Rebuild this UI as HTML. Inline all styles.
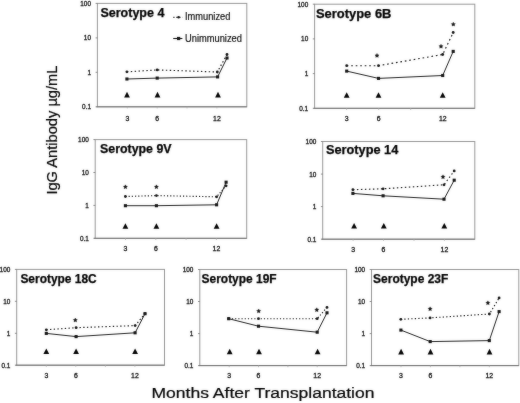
<!DOCTYPE html>
<html><head><meta charset="utf-8"><title>IgG Antibody by Serotype</title>
<style>
html,body{margin:0;padding:0;background:#fff;}
body{width:520px;height:403px;overflow:hidden;font-family:"Liberation Sans",sans-serif;}
svg{display:block;font-family:"Liberation Sans",sans-serif;}
</style></head><body>
<svg width="520" height="403" viewBox="0 0 520 403">
<defs><filter id="soft" x="0" y="0" width="520" height="403" filterUnits="userSpaceOnUse" color-interpolation-filters="sRGB"><feGaussianBlur in="SourceGraphic" stdDeviation="0.8" result="b"/><feComposite in="b" in2="SourceGraphic" operator="arithmetic" k1="0" k2="0.3" k3="0.7" k4="0"/></filter></defs>
<rect width="520" height="403" fill="#fff"/>
<g filter="url(#soft)">
<rect x="97.4" y="3.4" width="149.4" height="103.4" fill="none" stroke="#959595" stroke-width="1"/>
<path d="M96.4 106.8H246.8" fill="none" stroke="#6e6e6e" stroke-width="1"/>
<line x1="95.60000000000001" y1="3.4" x2="97.4" y2="3.4" stroke="#6e6e6e" stroke-width="0.8"/>
<text x="0" y="0" font-size="6.9" text-anchor="end" fill="#111" transform="translate(91.0,5.8) scale(0.93,1)" stroke="#111" stroke-width="0.3">100</text>
<line x1="95.60000000000001" y1="37.9" x2="97.4" y2="37.9" stroke="#6e6e6e" stroke-width="0.8"/>
<text x="0" y="0" font-size="6.9" text-anchor="end" fill="#111" transform="translate(91.0,40.3) scale(0.93,1)" stroke="#111" stroke-width="0.3">10</text>
<line x1="95.60000000000001" y1="72.3" x2="97.4" y2="72.3" stroke="#6e6e6e" stroke-width="0.8"/>
<text x="0" y="0" font-size="6.9" text-anchor="end" fill="#111" transform="translate(91.0,74.7) scale(0.93,1)" stroke="#111" stroke-width="0.3">1</text>
<line x1="95.60000000000001" y1="106.8" x2="97.4" y2="106.8" stroke="#6e6e6e" stroke-width="0.8"/>
<text x="0" y="0" font-size="6.9" text-anchor="end" fill="#111" transform="translate(91.0,109.2) scale(0.93,1)" stroke="#111" stroke-width="0.3">0.1</text>
<line x1="127.3" y1="106.8" x2="127.3" y2="108.39999999999999" stroke="#aaa" stroke-width="0.8"/>
<text x="127.3" y="120.7" font-size="6.9" text-anchor="middle" fill="#111" transform="translate(127.3,0) scale(1.0,1) translate(-127.3,0)" stroke="#111" stroke-width="0.3">3</text>
<line x1="157.2" y1="106.8" x2="157.2" y2="108.39999999999999" stroke="#aaa" stroke-width="0.8"/>
<text x="157.2" y="120.7" font-size="6.9" text-anchor="middle" fill="#111" transform="translate(157.2,0) scale(1.0,1) translate(-157.2,0)" stroke="#111" stroke-width="0.3">6</text>
<line x1="187.0" y1="106.8" x2="187.0" y2="108.39999999999999" stroke="#aaa" stroke-width="0.8"/>
<line x1="216.9" y1="106.8" x2="216.9" y2="108.39999999999999" stroke="#aaa" stroke-width="0.8"/>
<text x="216.9" y="120.7" font-size="6.9" text-anchor="middle" fill="#111" transform="translate(216.9,0) scale(1.0,1) translate(-216.9,0)" stroke="#111" stroke-width="0.3">12</text>
<text x="100.4" y="16.8" font-size="12.4" font-weight="bold" fill="#000" stroke="#000" stroke-width="0.25" textLength="64.0" lengthAdjust="spacingAndGlyphs">Serotype 4</text>
<polygon points="124.1,97.4 129.9,97.4 127.0,91.8" fill="#000"/>
<polygon points="154.6,97.4 160.4,97.4 157.5,91.8" fill="#000"/>
<polygon points="215.1,97.4 220.9,97.4 218.0,91.8" fill="#000"/>
<polyline points="126.9,71.8 157.2,69.9 217.3,72 227,54.5" fill="none" stroke="#111" stroke-width="1.15" stroke-dasharray="1.44 2.46" stroke-linecap="butt"/>
<circle cx="126.9" cy="71.8" r="1.4" fill="#111"/>
<circle cx="157.2" cy="69.9" r="1.4" fill="#111"/>
<circle cx="217.3" cy="72" r="1.4" fill="#111"/>
<circle cx="227" cy="54.5" r="1.4" fill="#111"/>
<polyline points="126.9,79 157.2,78.1 217.6,76.9 227,58" fill="none" stroke="#111" stroke-width="0.95" stroke-linejoin="round"/>
<rect x="125.35" y="77.45" width="3.1" height="3.1" fill="#111"/>
<rect x="155.65" y="76.55" width="3.1" height="3.1" fill="#111"/>
<rect x="216.05" y="75.35" width="3.1" height="3.1" fill="#111"/>
<rect x="225.45" y="56.45" width="3.1" height="3.1" fill="#111"/>
<rect x="314.6" y="4.2" width="160.2" height="104.1" fill="none" stroke="#959595" stroke-width="1"/>
<path d="M313.6 108.3H474.8" fill="none" stroke="#6e6e6e" stroke-width="1"/>
<line x1="312.8" y1="4.2" x2="314.6" y2="4.2" stroke="#6e6e6e" stroke-width="0.8"/>
<text x="0" y="0" font-size="6.9" text-anchor="end" fill="#111" transform="translate(308.2,6.6) scale(0.93,1)" stroke="#111" stroke-width="0.3">100</text>
<line x1="312.8" y1="38.9" x2="314.6" y2="38.9" stroke="#6e6e6e" stroke-width="0.8"/>
<text x="0" y="0" font-size="6.9" text-anchor="end" fill="#111" transform="translate(308.2,41.3) scale(0.93,1)" stroke="#111" stroke-width="0.3">10</text>
<line x1="312.8" y1="73.6" x2="314.6" y2="73.6" stroke="#6e6e6e" stroke-width="0.8"/>
<text x="0" y="0" font-size="6.9" text-anchor="end" fill="#111" transform="translate(308.2,76.0) scale(0.93,1)" stroke="#111" stroke-width="0.3">1</text>
<line x1="312.8" y1="108.3" x2="314.6" y2="108.3" stroke="#6e6e6e" stroke-width="0.8"/>
<text x="0" y="0" font-size="6.9" text-anchor="end" fill="#111" transform="translate(308.2,110.7) scale(0.93,1)" stroke="#111" stroke-width="0.3">0.1</text>
<line x1="346.6" y1="108.3" x2="346.6" y2="109.89999999999999" stroke="#aaa" stroke-width="0.8"/>
<text x="346.6" y="121.2" font-size="6.9" text-anchor="middle" fill="#111" transform="translate(346.6,0) scale(1.0,1) translate(-346.6,0)" stroke="#111" stroke-width="0.3">3</text>
<line x1="378.7" y1="108.3" x2="378.7" y2="109.89999999999999" stroke="#aaa" stroke-width="0.8"/>
<text x="378.7" y="121.2" font-size="6.9" text-anchor="middle" fill="#111" transform="translate(378.7,0) scale(1.0,1) translate(-378.7,0)" stroke="#111" stroke-width="0.3">6</text>
<line x1="410.7" y1="108.3" x2="410.7" y2="109.89999999999999" stroke="#aaa" stroke-width="0.8"/>
<line x1="442.8" y1="108.3" x2="442.8" y2="109.89999999999999" stroke="#aaa" stroke-width="0.8"/>
<text x="442.8" y="121.2" font-size="6.9" text-anchor="middle" fill="#111" transform="translate(442.8,0) scale(1.0,1) translate(-442.8,0)" stroke="#111" stroke-width="0.3">12</text>
<text x="316.0" y="18.2" font-size="12.2" font-weight="bold" fill="#000" stroke="#000" stroke-width="0.25" textLength="75.4" lengthAdjust="spacingAndGlyphs">Serotype 6B</text>
<polygon points="343.8,97.8 349.6,97.8 346.7,92.2" fill="#000"/>
<polygon points="375.6,97.8 381.4,97.8 378.5,92.2" fill="#000"/>
<polygon points="439.8,97.8 445.6,97.8 442.7,92.2" fill="#000"/>
<polyline points="346.7,65.7 378.5,65.7 442.7,54.5 453.2,32.5" fill="none" stroke="#111" stroke-width="1.15" stroke-dasharray="1.67 2.83" stroke-linecap="butt"/>
<circle cx="346.7" cy="65.7" r="1.4" fill="#111"/>
<circle cx="378.5" cy="65.7" r="1.4" fill="#111"/>
<circle cx="442.7" cy="54.5" r="1.4" fill="#111"/>
<circle cx="453.2" cy="32.5" r="1.4" fill="#111"/>
<polyline points="346.7,71.1 378.5,78.4 442.7,75.5 453.2,51.4" fill="none" stroke="#111" stroke-width="0.95" stroke-linejoin="round"/>
<rect x="345.15" y="69.55" width="3.1" height="3.1" fill="#111"/>
<rect x="376.95" y="76.85" width="3.1" height="3.1" fill="#111"/>
<rect x="441.15" y="73.95" width="3.1" height="3.1" fill="#111"/>
<rect x="451.65" y="49.85" width="3.1" height="3.1" fill="#111"/>
<polygon points="377.00,53.45 377.66,54.70 379.04,54.94 378.06,55.95 378.26,57.34 377.00,56.72 375.74,57.34 375.94,55.95 374.96,54.94 376.34,54.70" fill="#111" stroke="#111" stroke-width="0.35" stroke-linejoin="round"/>
<polygon points="441.00,44.25 441.66,45.50 443.04,45.74 442.06,46.75 442.26,48.14 441.00,47.52 439.74,48.14 439.94,46.75 438.96,45.74 440.34,45.50" fill="#111" stroke="#111" stroke-width="0.35" stroke-linejoin="round"/>
<polygon points="453.30,22.15 453.96,23.40 455.34,23.64 454.36,24.65 454.56,26.04 453.30,25.42 452.04,26.04 452.24,24.65 451.26,23.64 452.64,23.40" fill="#111" stroke="#111" stroke-width="0.35" stroke-linejoin="round"/>
<rect x="95.2" y="139.6" width="151.5" height="98.7" fill="none" stroke="#959595" stroke-width="1"/>
<path d="M94.2 238.3H246.7" fill="none" stroke="#6e6e6e" stroke-width="1"/>
<line x1="93.4" y1="139.6" x2="95.2" y2="139.6" stroke="#6e6e6e" stroke-width="0.8"/>
<text x="0" y="0" font-size="6.9" text-anchor="end" fill="#111" transform="translate(88.8,142.0) scale(0.93,1)" stroke="#111" stroke-width="0.3">100</text>
<line x1="93.4" y1="172.5" x2="95.2" y2="172.5" stroke="#6e6e6e" stroke-width="0.8"/>
<text x="0" y="0" font-size="6.9" text-anchor="end" fill="#111" transform="translate(88.8,174.9) scale(0.93,1)" stroke="#111" stroke-width="0.3">10</text>
<line x1="93.4" y1="205.4" x2="95.2" y2="205.4" stroke="#6e6e6e" stroke-width="0.8"/>
<text x="0" y="0" font-size="6.9" text-anchor="end" fill="#111" transform="translate(88.8,207.8) scale(0.93,1)" stroke="#111" stroke-width="0.3">1</text>
<line x1="93.4" y1="238.3" x2="95.2" y2="238.3" stroke="#6e6e6e" stroke-width="0.8"/>
<text x="0" y="0" font-size="6.9" text-anchor="end" fill="#111" transform="translate(88.8,240.7) scale(0.93,1)" stroke="#111" stroke-width="0.3">0.1</text>
<line x1="125.5" y1="238.3" x2="125.5" y2="239.9" stroke="#aaa" stroke-width="0.8"/>
<text x="125.5" y="250.6" font-size="6.9" text-anchor="middle" fill="#111" transform="translate(125.5,0) scale(1.0,1) translate(-125.5,0)" stroke="#111" stroke-width="0.3">3</text>
<line x1="155.8" y1="238.3" x2="155.8" y2="239.9" stroke="#aaa" stroke-width="0.8"/>
<text x="155.8" y="250.6" font-size="6.9" text-anchor="middle" fill="#111" transform="translate(155.8,0) scale(1.0,1) translate(-155.8,0)" stroke="#111" stroke-width="0.3">6</text>
<line x1="186.1" y1="238.3" x2="186.1" y2="239.9" stroke="#aaa" stroke-width="0.8"/>
<line x1="216.4" y1="238.3" x2="216.4" y2="239.9" stroke="#aaa" stroke-width="0.8"/>
<text x="216.4" y="250.6" font-size="6.9" text-anchor="middle" fill="#111" transform="translate(216.4,0) scale(1.0,1) translate(-216.4,0)" stroke="#111" stroke-width="0.3">12</text>
<text x="100.0" y="152.8" font-size="12.0" font-weight="bold" fill="#000" stroke="#000" stroke-width="0.25" textLength="71.6" lengthAdjust="spacingAndGlyphs">Serotype 9V</text>
<polygon points="122.5,228.8 128.3,228.8 125.4,223.2" fill="#000"/>
<polygon points="153.5,228.8 159.3,228.8 156.4,223.2" fill="#000"/>
<polygon points="213.7,228.8 219.5,228.8 216.6,223.2" fill="#000"/>
<polyline points="125.4,196.5 156.4,195.6 216.6,196.8 226.1,185.8" fill="none" stroke="#111" stroke-width="1.15" stroke-dasharray="1.18 2.02" stroke-linecap="butt"/>
<circle cx="125.4" cy="196.5" r="1.4" fill="#111"/>
<circle cx="156.4" cy="195.6" r="1.4" fill="#111"/>
<circle cx="216.6" cy="196.8" r="1.4" fill="#111"/>
<circle cx="226.1" cy="185.8" r="1.4" fill="#111"/>
<polyline points="125.4,205.7 156.4,205.7 216.6,204.8 226.1,182.2" fill="none" stroke="#111" stroke-width="0.95" stroke-linejoin="round"/>
<rect x="123.85" y="204.15" width="3.1" height="3.1" fill="#111"/>
<rect x="154.85" y="204.15" width="3.1" height="3.1" fill="#111"/>
<rect x="215.05" y="203.25" width="3.1" height="3.1" fill="#111"/>
<rect x="224.55" y="180.65" width="3.1" height="3.1" fill="#111"/>
<polygon points="125.40,184.85 126.06,186.10 127.44,186.34 126.46,187.35 126.66,188.74 125.40,188.12 124.14,188.74 124.34,187.35 123.36,186.34 124.74,186.10" fill="#111" stroke="#111" stroke-width="0.35" stroke-linejoin="round"/>
<polygon points="156.40,184.85 157.06,186.10 158.44,186.34 157.46,187.35 157.66,188.74 156.40,188.12 155.14,188.74 155.34,187.35 154.36,186.34 155.74,186.10" fill="#111" stroke="#111" stroke-width="0.35" stroke-linejoin="round"/>
<rect x="322.7" y="141.5" width="152.1" height="97.7" fill="none" stroke="#959595" stroke-width="1"/>
<path d="M321.7 239.2H474.8" fill="none" stroke="#6e6e6e" stroke-width="1"/>
<line x1="320.9" y1="141.5" x2="322.7" y2="141.5" stroke="#6e6e6e" stroke-width="0.8"/>
<text x="0" y="0" font-size="6.9" text-anchor="end" fill="#111" transform="translate(316.3,143.9) scale(0.93,1)" stroke="#111" stroke-width="0.3">100</text>
<line x1="320.9" y1="174.1" x2="322.7" y2="174.1" stroke="#6e6e6e" stroke-width="0.8"/>
<text x="0" y="0" font-size="6.9" text-anchor="end" fill="#111" transform="translate(316.3,176.5) scale(0.93,1)" stroke="#111" stroke-width="0.3">10</text>
<line x1="320.9" y1="206.6" x2="322.7" y2="206.6" stroke="#6e6e6e" stroke-width="0.8"/>
<text x="0" y="0" font-size="6.9" text-anchor="end" fill="#111" transform="translate(316.3,209.0) scale(0.93,1)" stroke="#111" stroke-width="0.3">1</text>
<line x1="320.9" y1="239.2" x2="322.7" y2="239.2" stroke="#6e6e6e" stroke-width="0.8"/>
<text x="0" y="0" font-size="6.9" text-anchor="end" fill="#111" transform="translate(316.3,241.6) scale(0.93,1)" stroke="#111" stroke-width="0.3">0.1</text>
<line x1="353.1" y1="239.2" x2="353.1" y2="240.79999999999998" stroke="#aaa" stroke-width="0.8"/>
<text x="353.1" y="252.3" font-size="6.9" text-anchor="middle" fill="#111" transform="translate(353.1,0) scale(1.0,1) translate(-353.1,0)" stroke="#111" stroke-width="0.3">3</text>
<line x1="383.5" y1="239.2" x2="383.5" y2="240.79999999999998" stroke="#aaa" stroke-width="0.8"/>
<text x="383.5" y="252.3" font-size="6.9" text-anchor="middle" fill="#111" transform="translate(383.5,0) scale(1.0,1) translate(-383.5,0)" stroke="#111" stroke-width="0.3">6</text>
<line x1="414.0" y1="239.2" x2="414.0" y2="240.79999999999998" stroke="#aaa" stroke-width="0.8"/>
<line x1="444.4" y1="239.2" x2="444.4" y2="240.79999999999998" stroke="#aaa" stroke-width="0.8"/>
<text x="444.4" y="252.3" font-size="6.9" text-anchor="middle" fill="#111" transform="translate(444.4,0) scale(1.0,1) translate(-444.4,0)" stroke="#111" stroke-width="0.3">12</text>
<text x="326.0" y="154.3" font-size="12.0" font-weight="bold" fill="#000" stroke="#000" stroke-width="0.25" textLength="72.3" lengthAdjust="spacingAndGlyphs">Serotype 14</text>
<polygon points="351.2,228.5 357.0,228.5 354.1,222.9" fill="#000"/>
<polygon points="380.9,228.5 386.7,228.5 383.8,222.9" fill="#000"/>
<polygon points="441.4,228.5 447.2,228.5 444.3,222.9" fill="#000"/>
<polyline points="352.9,189.7 383.1,188.8 444,184.8 454.2,170.9" fill="none" stroke="#111" stroke-width="1.15" stroke-dasharray="1.48 2.52" stroke-linecap="butt"/>
<circle cx="352.9" cy="189.7" r="1.4" fill="#111"/>
<circle cx="383.1" cy="188.8" r="1.4" fill="#111"/>
<circle cx="444" cy="184.8" r="1.4" fill="#111"/>
<circle cx="454.2" cy="170.9" r="1.4" fill="#111"/>
<polyline points="352.9,193.4 383.1,195.8 444,199.2 454.2,180.2" fill="none" stroke="#111" stroke-width="0.95" stroke-linejoin="round"/>
<rect x="351.35" y="191.85" width="3.1" height="3.1" fill="#111"/>
<rect x="381.55" y="194.25" width="3.1" height="3.1" fill="#111"/>
<rect x="442.45" y="197.65" width="3.1" height="3.1" fill="#111"/>
<rect x="452.65" y="178.65" width="3.1" height="3.1" fill="#111"/>
<polygon points="443.00,174.85 443.66,176.10 445.04,176.34 444.06,177.35 444.26,178.74 443.00,178.12 441.74,178.74 441.94,177.35 440.96,176.34 442.34,176.10" fill="#111" stroke="#111" stroke-width="0.35" stroke-linejoin="round"/>
<rect x="16.7" y="269.4" width="147.8" height="95.8" fill="none" stroke="#959595" stroke-width="1"/>
<path d="M15.7 365.2H164.5" fill="none" stroke="#6e6e6e" stroke-width="1"/>
<line x1="14.899999999999999" y1="269.4" x2="16.7" y2="269.4" stroke="#6e6e6e" stroke-width="0.8"/>
<text x="0" y="0" font-size="6.9" text-anchor="end" fill="#111" transform="translate(10.3,271.8) scale(0.93,1)" stroke="#111" stroke-width="0.3">100</text>
<line x1="14.899999999999999" y1="301.3" x2="16.7" y2="301.3" stroke="#6e6e6e" stroke-width="0.8"/>
<text x="0" y="0" font-size="6.9" text-anchor="end" fill="#111" transform="translate(10.3,303.7) scale(0.93,1)" stroke="#111" stroke-width="0.3">10</text>
<line x1="14.899999999999999" y1="333.3" x2="16.7" y2="333.3" stroke="#6e6e6e" stroke-width="0.8"/>
<text x="0" y="0" font-size="6.9" text-anchor="end" fill="#111" transform="translate(10.3,335.7) scale(0.93,1)" stroke="#111" stroke-width="0.3">1</text>
<line x1="14.899999999999999" y1="365.2" x2="16.7" y2="365.2" stroke="#6e6e6e" stroke-width="0.8"/>
<text x="0" y="0" font-size="6.9" text-anchor="end" fill="#111" transform="translate(10.3,367.6) scale(0.93,1)" stroke="#111" stroke-width="0.3">0.1</text>
<line x1="46.3" y1="365.2" x2="46.3" y2="366.8" stroke="#aaa" stroke-width="0.8"/>
<text x="46.3" y="377.5" font-size="6.9" text-anchor="middle" fill="#111" transform="translate(46.3,0) scale(1.0,1) translate(-46.3,0)" stroke="#111" stroke-width="0.3">3</text>
<line x1="75.8" y1="365.2" x2="75.8" y2="366.8" stroke="#aaa" stroke-width="0.8"/>
<text x="75.8" y="377.5" font-size="6.9" text-anchor="middle" fill="#111" transform="translate(75.8,0) scale(1.0,1) translate(-75.8,0)" stroke="#111" stroke-width="0.3">6</text>
<line x1="105.4" y1="365.2" x2="105.4" y2="366.8" stroke="#aaa" stroke-width="0.8"/>
<line x1="134.9" y1="365.2" x2="134.9" y2="366.8" stroke="#aaa" stroke-width="0.8"/>
<text x="134.9" y="377.5" font-size="6.9" text-anchor="middle" fill="#111" transform="translate(134.9,0) scale(1.0,1) translate(-134.9,0)" stroke="#111" stroke-width="0.3">12</text>
<text x="20.4" y="283.4" font-size="12.0" font-weight="bold" fill="#000" stroke="#000" stroke-width="0.25" textLength="76.3" lengthAdjust="spacingAndGlyphs">Serotype 18C</text>
<polygon points="43.4,354.1 49.2,354.1 46.3,348.5" fill="#000"/>
<polygon points="73.2,354.1 79.0,354.1 76.1,348.5" fill="#000"/>
<polygon points="132.2,354.1 138.0,354.1 135.1,348.5" fill="#000"/>
<polyline points="46.3,329.8 76.1,327.7 135.1,325.6 145,313.7" fill="none" stroke="#111" stroke-width="1.15" stroke-dasharray="1.37 2.33" stroke-linecap="butt"/>
<circle cx="46.3" cy="329.8" r="1.4" fill="#111"/>
<circle cx="76.1" cy="327.7" r="1.4" fill="#111"/>
<circle cx="135.1" cy="325.6" r="1.4" fill="#111"/>
<circle cx="145" cy="313.7" r="1.4" fill="#111"/>
<polyline points="46.3,333.4 76.1,336.6 135.1,332.8 145,313.7" fill="none" stroke="#111" stroke-width="0.95" stroke-linejoin="round"/>
<rect x="44.75" y="331.85" width="3.1" height="3.1" fill="#111"/>
<rect x="74.55" y="335.05" width="3.1" height="3.1" fill="#111"/>
<rect x="133.55" y="331.25" width="3.1" height="3.1" fill="#111"/>
<rect x="143.45" y="312.15" width="3.1" height="3.1" fill="#111"/>
<polygon points="75.30,318.05 75.96,319.30 77.34,319.54 76.36,320.55 76.56,321.94 75.30,321.32 74.04,321.94 74.24,320.55 73.26,319.54 74.64,319.30" fill="#111" stroke="#111" stroke-width="0.35" stroke-linejoin="round"/>
<rect x="199.8" y="269.5" width="146.8" height="96.1" fill="none" stroke="#959595" stroke-width="1"/>
<path d="M198.8 365.6H346.6" fill="none" stroke="#6e6e6e" stroke-width="1"/>
<line x1="198.0" y1="269.5" x2="199.8" y2="269.5" stroke="#6e6e6e" stroke-width="0.8"/>
<text x="0" y="0" font-size="6.9" text-anchor="end" fill="#111" transform="translate(193.4,271.9) scale(0.93,1)" stroke="#111" stroke-width="0.3">100</text>
<line x1="198.0" y1="301.5" x2="199.8" y2="301.5" stroke="#6e6e6e" stroke-width="0.8"/>
<text x="0" y="0" font-size="6.9" text-anchor="end" fill="#111" transform="translate(193.4,303.9) scale(0.93,1)" stroke="#111" stroke-width="0.3">10</text>
<line x1="198.0" y1="333.6" x2="199.8" y2="333.6" stroke="#6e6e6e" stroke-width="0.8"/>
<text x="0" y="0" font-size="6.9" text-anchor="end" fill="#111" transform="translate(193.4,336.0) scale(0.93,1)" stroke="#111" stroke-width="0.3">1</text>
<line x1="198.0" y1="365.6" x2="199.8" y2="365.6" stroke="#6e6e6e" stroke-width="0.8"/>
<text x="0" y="0" font-size="6.9" text-anchor="end" fill="#111" transform="translate(193.4,368.0) scale(0.93,1)" stroke="#111" stroke-width="0.3">0.1</text>
<line x1="229.2" y1="365.6" x2="229.2" y2="367.20000000000005" stroke="#aaa" stroke-width="0.8"/>
<text x="229.2" y="377.9" font-size="6.9" text-anchor="middle" fill="#111" transform="translate(229.2,0) scale(1.0,1) translate(-229.2,0)" stroke="#111" stroke-width="0.3">3</text>
<line x1="258.5" y1="365.6" x2="258.5" y2="367.20000000000005" stroke="#aaa" stroke-width="0.8"/>
<text x="258.5" y="377.9" font-size="6.9" text-anchor="middle" fill="#111" transform="translate(258.5,0) scale(1.0,1) translate(-258.5,0)" stroke="#111" stroke-width="0.3">6</text>
<line x1="287.9" y1="365.6" x2="287.9" y2="367.20000000000005" stroke="#aaa" stroke-width="0.8"/>
<line x1="317.2" y1="365.6" x2="317.2" y2="367.20000000000005" stroke="#aaa" stroke-width="0.8"/>
<text x="317.2" y="377.9" font-size="6.9" text-anchor="middle" fill="#111" transform="translate(317.2,0) scale(1.0,1) translate(-317.2,0)" stroke="#111" stroke-width="0.3">12</text>
<text x="201.6" y="282.6" font-size="12.0" font-weight="bold" fill="#000" stroke="#000" stroke-width="0.25" textLength="75.0" lengthAdjust="spacingAndGlyphs">Serotype 19F</text>
<polygon points="226.8,354.3 232.6,354.3 229.7,348.7" fill="#000"/>
<polygon points="256.1,354.3 261.9,354.3 259.0,348.7" fill="#000"/>
<polygon points="314.7,354.3 320.5,354.3 317.6,348.7" fill="#000"/>
<polyline points="228.7,318.7 258.5,318.7 317.2,318.7 327,307.4" fill="none" stroke="#111" stroke-width="1.15" stroke-dasharray="1.18 2.02" stroke-linecap="butt"/>
<circle cx="228.7" cy="318.7" r="1.4" fill="#111"/>
<circle cx="258.5" cy="318.7" r="1.4" fill="#111"/>
<circle cx="317.2" cy="318.7" r="1.4" fill="#111"/>
<circle cx="327" cy="307.4" r="1.4" fill="#111"/>
<polyline points="228.7,318.7 258.5,326.2 317.2,332.2 327,312.8" fill="none" stroke="#111" stroke-width="0.95" stroke-linejoin="round"/>
<rect x="227.15" y="317.15" width="3.1" height="3.1" fill="#111"/>
<rect x="256.95" y="324.65" width="3.1" height="3.1" fill="#111"/>
<rect x="315.65" y="330.65" width="3.1" height="3.1" fill="#111"/>
<rect x="325.45" y="311.25" width="3.1" height="3.1" fill="#111"/>
<polygon points="258.70,308.95 259.36,310.20 260.74,310.44 259.76,311.45 259.96,312.84 258.70,312.22 257.44,312.84 257.64,311.45 256.66,310.44 258.04,310.20" fill="#111" stroke="#111" stroke-width="0.35" stroke-linejoin="round"/>
<polygon points="316.80,307.75 317.46,309.00 318.84,309.24 317.86,310.25 318.06,311.64 316.80,311.02 315.54,311.64 315.74,310.25 314.76,309.24 316.14,309.00" fill="#111" stroke="#111" stroke-width="0.35" stroke-linejoin="round"/>
<rect x="371.5" y="269.5" width="147.3" height="96.1" fill="none" stroke="#959595" stroke-width="1"/>
<path d="M370.5 365.6H518.8" fill="none" stroke="#6e6e6e" stroke-width="1"/>
<line x1="369.7" y1="269.5" x2="371.5" y2="269.5" stroke="#6e6e6e" stroke-width="0.8"/>
<text x="0" y="0" font-size="6.9" text-anchor="end" fill="#111" transform="translate(365.1,271.9) scale(0.93,1)" stroke="#111" stroke-width="0.3">100</text>
<line x1="369.7" y1="301.5" x2="371.5" y2="301.5" stroke="#6e6e6e" stroke-width="0.8"/>
<text x="0" y="0" font-size="6.9" text-anchor="end" fill="#111" transform="translate(365.1,303.9) scale(0.93,1)" stroke="#111" stroke-width="0.3">10</text>
<line x1="369.7" y1="333.6" x2="371.5" y2="333.6" stroke="#6e6e6e" stroke-width="0.8"/>
<text x="0" y="0" font-size="6.9" text-anchor="end" fill="#111" transform="translate(365.1,336.0) scale(0.93,1)" stroke="#111" stroke-width="0.3">1</text>
<line x1="369.7" y1="365.6" x2="371.5" y2="365.6" stroke="#6e6e6e" stroke-width="0.8"/>
<text x="0" y="0" font-size="6.9" text-anchor="end" fill="#111" transform="translate(365.1,368.0) scale(0.93,1)" stroke="#111" stroke-width="0.3">0.1</text>
<line x1="401.0" y1="365.6" x2="401.0" y2="367.20000000000005" stroke="#aaa" stroke-width="0.8"/>
<text x="401.0" y="377.9" font-size="6.9" text-anchor="middle" fill="#111" transform="translate(401.0,0) scale(1.0,1) translate(-401.0,0)" stroke="#111" stroke-width="0.3">3</text>
<line x1="430.4" y1="365.6" x2="430.4" y2="367.20000000000005" stroke="#aaa" stroke-width="0.8"/>
<text x="430.4" y="377.9" font-size="6.9" text-anchor="middle" fill="#111" transform="translate(430.4,0) scale(1.0,1) translate(-430.4,0)" stroke="#111" stroke-width="0.3">6</text>
<line x1="459.9" y1="365.6" x2="459.9" y2="367.20000000000005" stroke="#aaa" stroke-width="0.8"/>
<line x1="489.3" y1="365.6" x2="489.3" y2="367.20000000000005" stroke="#aaa" stroke-width="0.8"/>
<text x="489.3" y="377.9" font-size="6.9" text-anchor="middle" fill="#111" transform="translate(489.3,0) scale(1.0,1) translate(-489.3,0)" stroke="#111" stroke-width="0.3">12</text>
<text x="373.1" y="282.7" font-size="12.0" font-weight="bold" fill="#000" stroke="#000" stroke-width="0.25" textLength="75.2" lengthAdjust="spacingAndGlyphs">Serotype 23F</text>
<polygon points="398.2,354.4 404.0,354.4 401.1,348.8" fill="#000"/>
<polygon points="427.6,354.4 433.4,354.4 430.5,348.8" fill="#000"/>
<polygon points="486.6,354.4 492.4,354.4 489.5,348.8" fill="#000"/>
<polyline points="400.8,319.3 430.1,317.9 489.4,314.0 499.1,297.9" fill="none" stroke="#111" stroke-width="1.15" stroke-dasharray="1.29 2.21" stroke-linecap="butt"/>
<circle cx="400.8" cy="319.3" r="1.4" fill="#111"/>
<circle cx="430.1" cy="317.9" r="1.4" fill="#111"/>
<circle cx="489.4" cy="314.0" r="1.4" fill="#111"/>
<circle cx="499.1" cy="297.9" r="1.4" fill="#111"/>
<polyline points="400.9,330.1 430.2,341.6 489.3,340.6 499.1,311.6" fill="none" stroke="#111" stroke-width="0.95" stroke-linejoin="round"/>
<rect x="399.35" y="328.55" width="3.1" height="3.1" fill="#111"/>
<rect x="428.65" y="340.05" width="3.1" height="3.1" fill="#111"/>
<rect x="487.75" y="339.05" width="3.1" height="3.1" fill="#111"/>
<rect x="497.55" y="310.05" width="3.1" height="3.1" fill="#111"/>
<polygon points="430.10,306.85 430.76,308.10 432.14,308.34 431.16,309.35 431.36,310.74 430.10,310.12 428.84,310.74 429.04,309.35 428.06,308.34 429.44,308.10" fill="#111" stroke="#111" stroke-width="0.35" stroke-linejoin="round"/>
<polygon points="487.90,300.85 488.56,302.10 489.94,302.34 488.96,303.35 489.16,304.74 487.90,304.12 486.64,304.74 486.84,303.35 485.86,302.34 487.24,302.10" fill="#111" stroke="#111" stroke-width="0.35" stroke-linejoin="round"/>
<line x1="173.2" y1="17.3" x2="182.4" y2="17.3" stroke="#111" stroke-width="1" stroke-dasharray="1.4 1.6"/>
<circle cx="178.6" cy="17.3" r="1.3" fill="#111"/>
<text x="185.0" y="20.4" font-size="10.4" stroke="#111" stroke-width="0.2" textLength="45.4" lengthAdjust="spacingAndGlyphs" fill="#111">Immunized</text>
<line x1="173.2" y1="38.5" x2="182.4" y2="38.5" stroke="#111" stroke-width="1.1"/>
<rect x="177" y="36.9" width="3.2" height="3.2" fill="#111"/>
<text x="185.0" y="41.6" font-size="10.4" stroke="#111" stroke-width="0.2" textLength="56.9" lengthAdjust="spacingAndGlyphs" fill="#111">Unimmunized</text>
<text transform="translate(56.7,194.6) rotate(-90)" font-size="15.2" textLength="129" lengthAdjust="spacingAndGlyphs" fill="#000" stroke="#000" stroke-width="0.22">IgG Antibody µg/mL</text>
<text x="151.5" y="398.2" font-size="15.4" textLength="223" lengthAdjust="spacingAndGlyphs" fill="#000" stroke="#000" stroke-width="0.22">Months After Transplantation</text>
</g>
</svg>
</body></html>
